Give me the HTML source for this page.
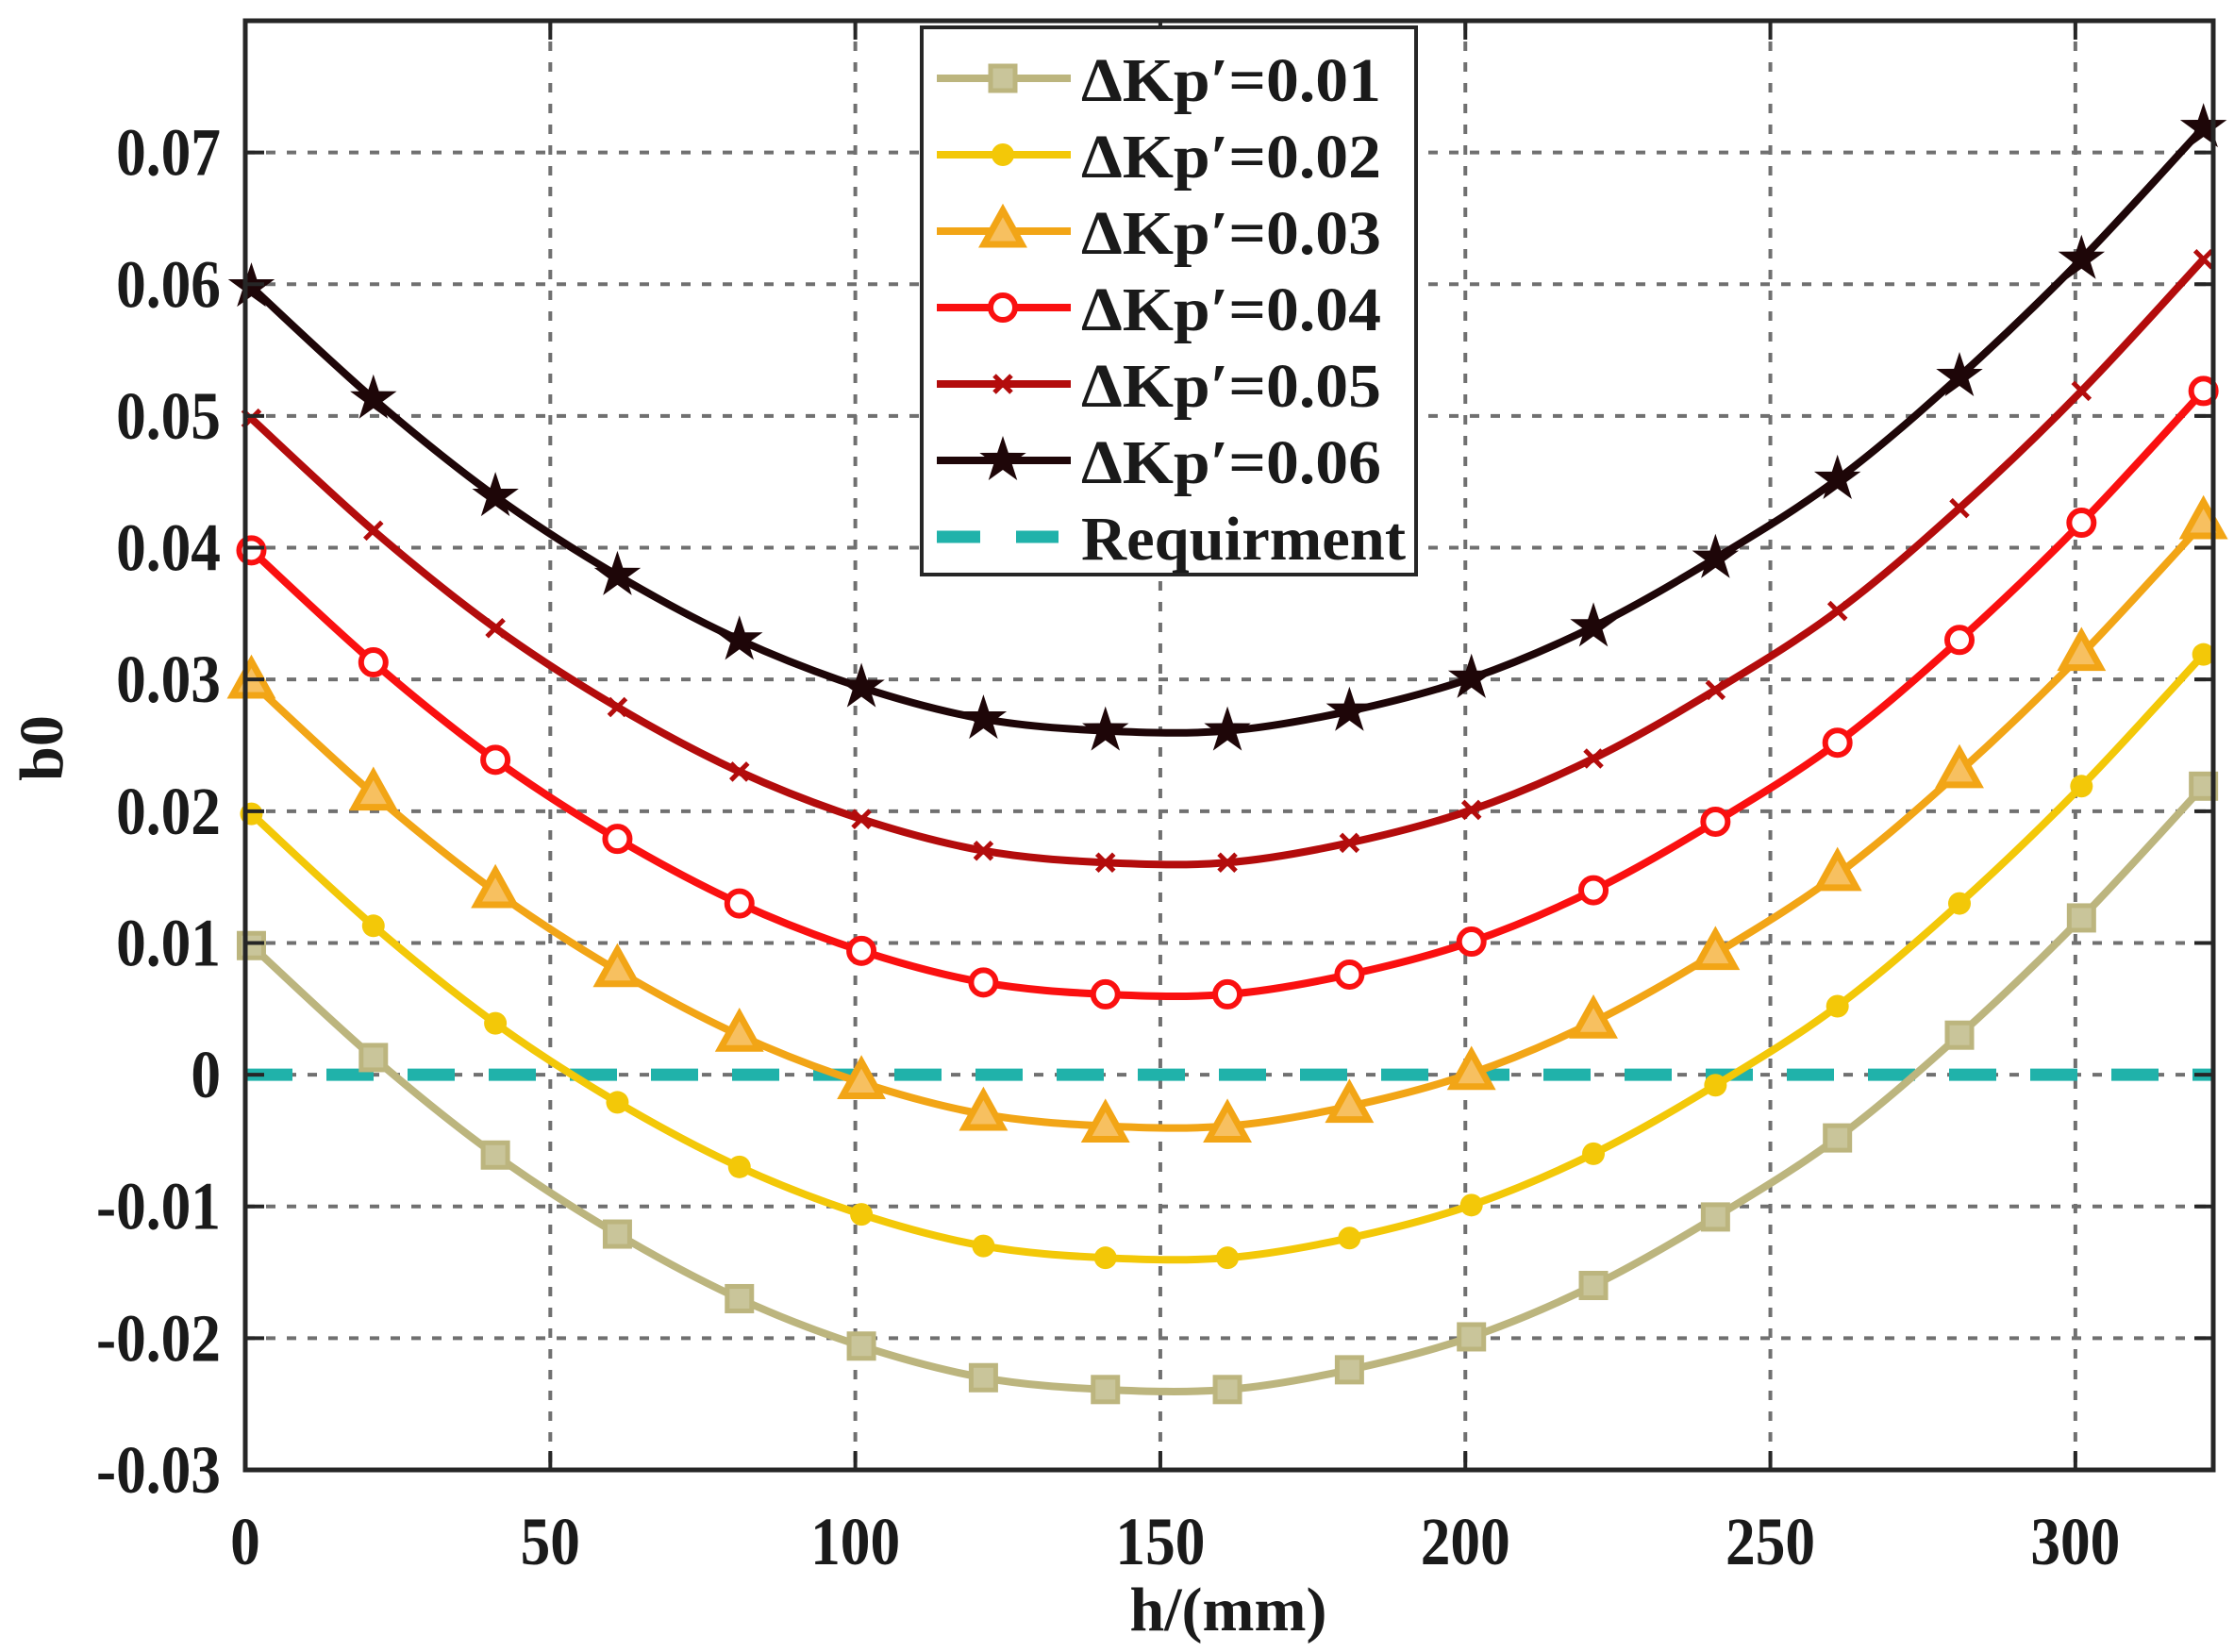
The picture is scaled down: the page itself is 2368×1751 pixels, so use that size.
<!DOCTYPE html>
<html><head><meta charset="utf-8"><style>
html,body{margin:0;padding:0;background:#fff}
svg{display:block}
text{font-family:"Liberation Serif",serif;font-weight:bold;fill:#1a1a1a}
</style></head><body>
<svg id="chart" width="2368" height="1751" viewBox="0 0 2368 1751" xmlns="http://www.w3.org/2000/svg">
<g id="grid"></g>
<g id="series"></g>
<g id="axes"></g>
<g id="legend"></g>
</svg>
<script>
const hValues=[1,21,41,61,81,101,121,141,161,181,201,221,241,261,281,301,321];
const s001=[0.0098,0.0013,-0.0061,-0.0121,-0.0170,-0.0206,-0.0230,-0.0239,-0.0239,-0.0224,-0.0199,-0.0160,-0.0108,-0.0048,0.0030,0.0119,0.0219];
const s002=[0.0198,0.0113,0.0039,-0.0021,-0.0070,-0.0106,-0.0130,-0.0139,-0.0139,-0.0124,-0.0099,-0.0060,-0.0008,0.0052,0.0130,0.0219,0.0319];
const s003=[0.0298,0.0213,0.0139,0.0079,0.0030,-0.0006,-0.0030,-0.0039,-0.0039,-0.0024,0.0001,0.0040,0.0092,0.0152,0.0230,0.0319,0.0419];
const s004=[0.0398,0.0313,0.0239,0.0179,0.0130,0.0094,0.0070,0.0061,0.0061,0.0076,0.0101,0.0140,0.0192,0.0252,0.0330,0.0419,0.0519];
const s005=[0.0498,0.0413,0.0339,0.0279,0.0230,0.0194,0.0170,0.0161,0.0161,0.0176,0.0201,0.0240,0.0292,0.0352,0.0430,0.0519,0.0619];
const s006=[0.0598,0.0513,0.0439,0.0379,0.0330,0.0294,0.0270,0.0261,0.0261,0.0276,0.0301,0.0340,0.0392,0.0452,0.0530,0.0619,0.0719];
const requirement=0;
const xTicks=[0,50,100,150,200,250,300];
const yTicks=[-0.03,-0.02,-0.01,0,0.01,0.02,0.03,0.04,0.05,0.06,0.07];
const yTickLabels=["-0.03","-0.02","-0.01","0","0.01","0.02","0.03","0.04","0.05","0.06","0.07"];
const legendLabels=["\u0394Kp\u2032=0.01","\u0394Kp\u2032=0.02","\u0394Kp\u2032=0.03","\u0394Kp\u2032=0.04","\u0394Kp\u2032=0.05","\u0394Kp\u2032=0.06","Requirment"];

const L=260,R=2346,T=22,B=1558;
const xMin=0,xMax=322.6,yMin=-0.03,yMax=0.08;
const X=v=>L+(v-xMin)/(xMax-xMin)*(R-L);
const Y=v=>B-(v-yMin)/(yMax-yMin)*(B-T);
const NS="http://www.w3.org/2000/svg";
function mk(tag,attrs,parent){const e=document.createElementNS(NS,tag);for(const k in attrs)e.setAttribute(k,attrs[k]);parent.appendChild(e);return e;}

const grid=document.getElementById('grid');
xTicks.forEach(t=>{if(t>0){const l=mk('line',{x1:X(t),x2:X(t),y1:T,y2:B,stroke:'#707070','stroke-width':4,'stroke-dasharray':'10 12'},grid);

}});
yTicks.forEach(t=>{if(t>yMin){const l=mk('line',{x1:L,x2:R,y1:Y(t),y2:Y(t),stroke:'#707070','stroke-width':4,'stroke-dasharray':'10 12'},grid);

}});

const seriesG=document.getElementById('series');
function smoothPath(xs,ys){const p=xs.map((x,i)=>[X(x),Y(ys[i])]);let d=`M${p[0][0]},${p[0][1]}`;
for(let i=0;i<p.length-1;i++){const p0=p[i-1]||p[i],p1=p[i],p2=p[i+1],p3=p[i+2]||p2;
d+=` C${p1[0]+(p2[0]-p0[0])/6},${p1[1]+(p2[1]-p0[1])/6} ${p2[0]-(p3[0]-p1[0])/6},${p2[1]-(p3[1]-p1[1])/6} ${p2[0]},${p2[1]}`;}return d;}
function marker(type,cx,cy,color,g){
 if(type==='square')return mk('rect',{x:cx-13,y:cy-13,width:26,height:26,fill:'#c9c59a',stroke:color,'stroke-width':5},g);
 if(type==='dot')return mk('circle',{cx:cx,cy:cy,r:12,fill:color},g);
 if(type==='tri')return mk('path',{d:`M${cx},${cy-22} L${cx+20},${cy+14} L${cx-20},${cy+14}Z`,fill:'#f7c060',stroke:color,'stroke-width':7,'stroke-linejoin':'miter'},g);
 if(type==='circle')return mk('circle',{cx:cx,cy:cy,r:13,fill:'#fff',stroke:color,'stroke-width':6},g);
 if(type==='x')return mk('path',{d:`M${cx-9},${cy-9}L${cx+9},${cy+9}M${cx-9},${cy+9}L${cx+9},${cy-9}`,stroke:color,'stroke-width':5},g);
 let d='';for(let k=0;k<10;k++){const r=k%2?10:26,a=-Math.PI/2+k*Math.PI/5;d+=(k?'L':'M')+(cx+r*Math.cos(a))+','+(cy+r*Math.sin(a));}
 return mk('path',{d:d+'Z',fill:color},g);
}
const seriesDefs=[[s001,'#bcb57e','square'],[s002,'#f3c808','dot'],[s003,'#f2a516','tri'],[s004,'#fa1010','circle'],[s005,'#b30c0c','x'],[s006,'#1e0608','star']];
// requirement line
const req=mk('line',{x1:L,x2:R,y1:Y(requirement),y2:Y(requirement),stroke:'#20b2aa','stroke-width':13,'stroke-dasharray':'50 36'},seriesG);


seriesDefs.forEach((s,i)=>{
 const g=mk('g',{},seriesG);
 
 
 const p=mk('path',{d:smoothPath(hValues,s[0]),fill:'none',stroke:s[1],'stroke-width':8},g);
 
 
 hValues.forEach((h,j)=>{const m=marker(s[2],X(h),Y(s[0][j]),s[1],g);
  
  });
});

const axes=document.getElementById('axes');
const box=mk('rect',{x:L,y:T,width:R-L,height:B-T,fill:'none',stroke:'#262626','stroke-width':5},axes);


xTicks.forEach(t=>{
 mk('line',{x1:X(t),x2:X(t),y1:B,y2:B-20,stroke:'#262626','stroke-width':4},axes);
 mk('line',{x1:X(t),x2:X(t),y1:T,y2:T+20,stroke:'#262626','stroke-width':4},axes);
 const tx=mk('text',{x:X(t),y:1658,'text-anchor':'middle','font-size':72,transform:`translate(${X(t)*0.12},0) scale(0.88,1)`},axes);
 tx.textContent=String(t);
 
 
});
yTicks.forEach((t,i)=>{
 mk('line',{x1:L,x2:L+20,y1:Y(t),y2:Y(t),stroke:'#262626','stroke-width':4},axes);
 mk('line',{x1:R,x2:R-20,y1:Y(t),y2:Y(t),stroke:'#262626','stroke-width':4},axes);
 const tx=mk('text',{x:234/0.88,y:Y(t)+24,'text-anchor':'end','font-size':72,transform:'scale(0.88,1)'},axes);
 tx.textContent=yTickLabels[i];
 
 
});
const xt=mk('text',{x:1302,y:1728,'text-anchor':'middle','font-size':66},axes);
xt.textContent='h/(mm)';


const yt=mk('text',{x:0,y:0,'text-anchor':'middle','font-size':66,transform:'translate(66,793) rotate(-90)'},axes);
yt.textContent='b0';



const lg=document.getElementById('legend');
const lbox=mk('rect',{x:977,y:29,width:524,height:580,fill:'#fff',stroke:'#262626','stroke-width':4},lg);


legendLabels.forEach((lab,i)=>{
 const cy=83+i*81;
 const g=mk('g',{},lg);
 
 
 if(i<6){
  mk('line',{x1:993,x2:1135,y1:cy,y2:cy,stroke:seriesDefs[i][1],'stroke-width':8},g);
  marker(seriesDefs[i][2],1063,cy,seriesDefs[i][1],g);
 } else {
  mk('line',{x1:993,x2:1122,y1:cy,y2:cy,stroke:'#20b2aa','stroke-width':13,'stroke-dasharray':'46 38'},g);
 }
 const tx=mk('text',{x:1146,y:cy+24,'font-size':66,textLength:i<6?318:344,lengthAdjust:'spacingAndGlyphs'},g);
 tx.textContent=lab;
});
</script>
</body></html>
